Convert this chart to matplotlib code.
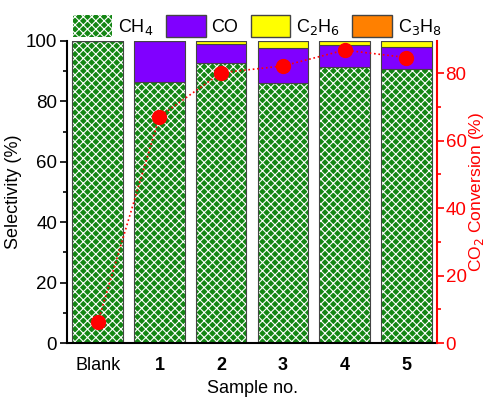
import numpy as np
import matplotlib
matplotlib.use('Agg')
import matplotlib.pyplot as plt
from matplotlib.patches import Patch

plt.rcParams['font.family'] = ['Liberation Sans', 'DejaVu Sans']
plt.rcParams['hatch.linewidth'] = 0.8

samples = ['Blank', '1', '2', '3', '4', '5']
ch4 = [100.0, 86.3, 92.8, 86.2, 91.3, 90.6]
co = [0.0, 13.7, 6.3, 11.6, 7.5, 7.5]
c2h6 = [0.0, 0.0, 0.9, 2.2, 1.2, 1.9]
c3h8 = [0.0, 0.0, 0.0, 0.0, 0.0, 0.0]
conversion = [6.1, 67.1, 80.1, 82.1, 86.8, 84.6]

green = '#148614'
purple = '#8000ff'
yellow = '#ffff00'
orange = '#ff8000'
edge = '#444444'
fs = 13

fig = plt.figure(figsize=(4.88, 3.98), dpi=100)
ax = fig.add_axes([0.137, 0.138, 0.759, 0.759])

x = np.arange(len(samples))
w = 0.82
# green with white crosshatch, then outline on top
ax.bar(x, ch4, w, color=green, edgecolor='white', hatch='xxxx', linewidth=0)
ax.bar(x, ch4, w, fill=False, edgecolor=edge, linewidth=0.8)
b1 = np.array(ch4)
ax.bar(x, co, w, bottom=b1, color=purple, edgecolor=edge, linewidth=0.8)
b2 = b1 + np.array(co)
ax.bar(x, c2h6, w, bottom=b2, color=yellow, edgecolor=edge, linewidth=0.8)
b3 = b2 + np.array(c2h6)
ax.bar(x, c3h8, w, bottom=b3, color=orange, edgecolor=edge, linewidth=0.8)

ax.set_xlim(-0.5, 5.5)
ax.set_ylim(0, 100)
ax.set_yticks([0, 20, 40, 60, 80, 100])
ax.set_yticks(np.arange(10, 100, 20), minor=True)
ax.set_xticks(x)
ax.set_xticklabels(samples, fontsize=fs)
for lbl in ax.get_xticklabels()[1:]:
    lbl.set_fontweight('bold')
ax.tick_params(axis='x', length=0, pad=10)
ax.tick_params(axis='y', which='major', length=5, width=1.2, labelsize=fs + 0.5, pad=2)
ax.tick_params(axis='y', which='minor', length=3, width=1.2)
ax.spines['top'].set_visible(False)
ax.spines['right'].set_visible(False)
ax.spines['left'].set_linewidth(1.5)
ax.spines['bottom'].set_linewidth(1.5)
ax.set_ylabel('Selectivity (%)', fontsize=fs, labelpad=3)
ax.set_xlabel('Sample no.', fontsize=fs, labelpad=4)

ax2 = ax.twinx()
ax2.plot(x, conversion, ':', color='red', linewidth=1.2, marker='o',
         markersize=10, markerfacecolor='red', markeredgecolor='red')
ax2.set_ylim(0, 89.5)
ax2.set_yticks([0, 20, 40, 60, 80])
ax2.set_yticks([10, 30, 50, 70], minor=True)
ax2.spines['top'].set_visible(False)
ax2.spines['left'].set_visible(False)
ax2.spines['bottom'].set_visible(False)
ax2.spines['right'].set_color('red')
ax2.spines['right'].set_linewidth(1.5)
ax2.tick_params(axis='y', which='both', colors='red', width=1.2, labelsize=fs + 0.5, pad=1)
ax2.tick_params(axis='y', which='major', length=5)
ax2.tick_params(axis='y', which='minor', length=3)
ax2.set_ylabel('CO$_2$ Conversion (%)', color='red', fontsize=fs - 0.5, labelpad=0)

handles = [
    Patch(facecolor=green, edgecolor='white', hatch='xxxx', linewidth=0),
    Patch(facecolor=purple, edgecolor=edge),
    Patch(facecolor=yellow, edgecolor=edge),
    Patch(facecolor=orange, edgecolor=edge),
]
labels = ['CH$_4$', 'CO', 'C$_2$H$_6$', 'C$_3$H$_8$']
fig.legend(handles, labels, loc='upper center', bbox_to_anchor=(0.527, 1.003),
           ncol=4, frameon=False, fontsize=fs, handlelength=2.2,
           handleheight=1.5, columnspacing=0.7, handletextpad=0.3)

fig.savefig('out.png', dpi=100)
